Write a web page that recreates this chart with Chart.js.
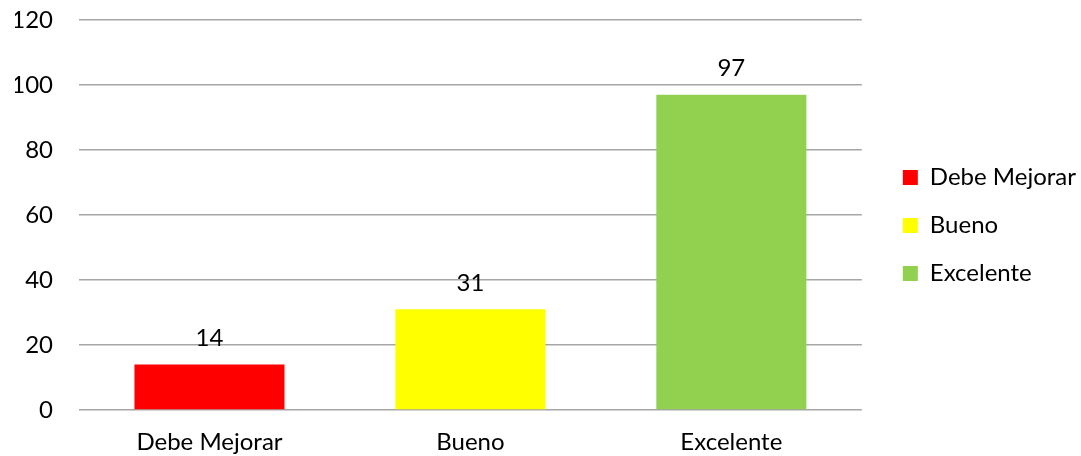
<!DOCTYPE html>
<html>
<head>
<meta charset="utf-8">
<script src="https://cdn.jsdelivr.net/npm/chart.js@4"></script>
<style>
  html, body { margin: 0; padding: 0; background: #fff; }
  #wrap { width: 1081px; height: 456px; }
</style>
</head>
<body>
<div id="wrap"><canvas id="grafico"></canvas></div>
<script>
var categorias = ["Debe Mejorar", "Bueno", "Excelente"];
var valores = [14, 31, 97];
var colores = ["#ff0000", "#ffff00", "#92d050"];

var fuente = { family: 'Lato', size: 24, lineHeight: 1 };

// etiquetas encima de cada barra
var etiquetas = {
    id: 'etiquetas',
    afterDatasetsDraw: function(chart) {
        var ctx = chart.ctx;
        var meta = chart.getDatasetMeta(0);
        ctx.save();
        ctx.font = '24px Lato';
        ctx.fillStyle = '#000';
        ctx.textAlign = 'center';
        ctx.textBaseline = 'middle';
        meta.data.forEach(function(bar, i) {
            ctx.fillText(valores[i], bar.x, bar.y - 26);
        });
        ctx.restore();
    }
};

// mover la leyenda un poco (como en excel)
var moverLeyenda = {
    id: 'moverLeyenda',
    afterLayout: function(chart) {
        var l = chart.legend;
        l.left += 17; l.right += 17;
        l.top -= 12; l.bottom -= 12;
    }
};

var ctx = document.getElementById("grafico");

var myChart = new Chart(ctx, {
    type: 'bar',
    data: {
        labels: categorias,
        datasets: [{
            data: valores,
            backgroundColor: colores,
            borderWidth: 0,
            barPercentage: 0.575,
            categoryPercentage: 1
        }]
    },
    options: {
        responsive: true,
        maintainAspectRatio: false,
        animation: false,
        layout: { padding: { top: 20, right: 12, left: 15, bottom: 1 } },
        plugins: {
            tooltip: { enabled: false },
            legend: {
                position: 'right',
                labels: {
                    font: fuente,
                    color: '#000',
                    boxWidth: 15,
                    boxHeight: 15,
                    padding: 24,
                    generateLabels: function(chart) {
                        return categorias.map(function(c, i) {
                            return { text: c, fillStyle: colores[i], strokeStyle: colores[i], lineWidth: 0, index: i };
                        });
                    }
                }
            }
        },
        scales: {
            x: {
                grid: { display: false },
                border: { display: false },
                ticks: { font: fuente, color: '#000', padding: 12, maxRotation: 0 },
                afterFit: function(scale) {
                    scale.paddingLeft = 0; scale.paddingRight = 0;
                    scale.paddingTop = 0; scale.paddingBottom = 0;
                    scale.height = 45;
                }
            },
            y: {
                min: 0,
                max: 120,
                ticks: { stepSize: 20, font: fuente, color: '#000', padding: 26 },
                grid: { color: '#a6a6a6', lineWidth: 1.5, drawTicks: false },
                border: { display: false },
                afterFit: function(scale) {
                    scale.paddingTop = 0; scale.paddingBottom = 0;
                    scale.width = 64;
                }
            }
        }
    },
    plugins: [etiquetas, moverLeyenda]
});
</script>
</body>
</html>
